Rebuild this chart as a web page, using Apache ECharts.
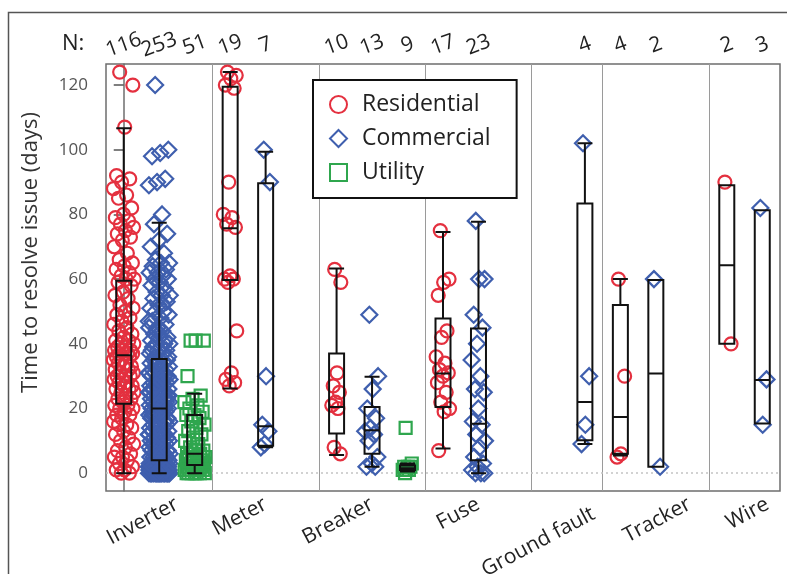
<!DOCTYPE html>
<html>
<head>
<meta charset="utf-8">
<script src="https://cdn.jsdelivr.net/npm/echarts@6/dist/echarts.min.js"></script>
<style>
  html, body { margin: 0; padding: 0; background: #fff; }
  #chart { width: 787px; height: 574px; }
</style>
</head>
<body>
<div id="chart"></div>
<script>
// categories and which groups have a slot on the axis (res, com, util)
const categories = ['Inverter', 'Meter', 'Breaker', 'Fuse', 'Ground fault', 'Tracker', 'Wire'];
const groupNames = ['Residential', 'Commercial', 'Utility'];
const slotsPerCategory = [3, 3, 3, 3, 2, 3, 2];
const yTicks = [0, 20, 40, 60, 80, 100, 120];

// days to resolve, one value per issue
const resInverter = [
  124, 120, 107, 92, 91, 90, 88, 86, 85, 82, 80, 79, 78, 77, 76, 75, 74, 73, 72, 70,
  68, 66, 65, 64, 63, 62, 61, 60, 60,
  59, 58, 56, 55, 54, 52, 51, 50, 49, 48, 47, 46, 45, 44, 43, 42, 41, 41, 40, 40,
  39, 39, 38, 38, 38, 37, 37, 37, 37,
  36, 36, 35, 35, 34, 34, 33, 33, 32, 32, 31, 31, 30, 30, 30, 29, 29, 28, 28, 27,
  27, 26, 26, 25, 25, 24, 23, 23, 22,
  21, 21, 20, 20, 19, 18, 18, 17, 16, 15, 15, 14, 13, 12, 11, 10, 9, 8, 7, 6,
  5, 5, 4, 3, 2, 1, 1, 0, 0
];
const comInverter = [
  120, 100, 99, 98, 91, 90, 89, 80,
  77, 74, 72, 70, 68, 66, 65, 65, 64, 63, 62, 62, 61, 60, 60, 59, 58, 57, 56, 55,
  55, 54, 53, 52, 51, 50, 50, 49, 48, 47, 46, 45, 45, 44, 43, 42, 42, 41, 40, 40,
  40, 39, 39, 38, 38, 37, 37, 36, 36, 36, 38, 41, 44, 47, 52,
  35, 35, 34, 34, 34, 33, 33, 33, 32, 32, 32, 31, 31, 31, 30, 30, 30, 30, 29, 29,
  29, 28, 28, 28, 27, 27, 27, 26, 26, 26, 25, 25, 25, 25, 24, 24, 24, 23, 23, 23,
  22, 22, 22, 22, 21, 21, 21, 21, 20, 20, 20, 20, 34, 31, 28, 26, 23, 21, 25, 30,
  27, 24, 22,
  19, 19, 19, 18, 18, 18, 17, 17, 17, 16, 16, 16, 15, 15, 15, 15, 14, 14, 14, 13,
  13, 13, 12, 12, 12, 12, 11, 11, 11, 10, 10, 10, 10, 9, 9, 9, 8, 8, 8, 8,
  7, 7, 7, 6, 6, 6, 6, 5, 5, 5, 5, 4, 4, 4, 4, 18, 16, 14, 12, 11,
  9, 7, 5,
  3, 3, 3, 3, 3, 3, 3, 3, 2, 2, 2, 2, 2, 2, 2, 2, 2, 2, 1, 1,
  1, 1, 1, 1, 1, 1, 1, 1, 1, 1, 1, 1, 0, 0, 0, 0, 0, 0, 0, 0,
  0, 0, 0, 0, 0, 0, 0, 0, 0, 0, 0, 0, 0, 0, 0, 0, 0, 0, 0, 0,
  2, 1, 0, 3
];
const utiInverter = [
  41, 41, 41, 30,
  24, 23, 22, 21, 20, 19, 18, 18, 17, 16, 15, 14, 13, 12, 11, 10, 9, 8, 7, 7,
  6, 6, 6, 5, 5, 5, 4, 4, 4, 3, 3, 3, 2, 2, 2, 2, 1, 1, 1, 1,
  0, 0, 0, 0, 0, 0, 0
];
const resMeter = [124, 123, 122, 120, 119, 90, 80, 79, 77, 76, 61, 60, 60, 59, 44, 31, 29, 28, 27];
const comMeter = [100, 90, 30, 15, 13, 9, 8];
const resBreaker = [63, 59, 31, 27, 25, 22, 21, 20, 8, 6];
const comBreaker = [49, 30, 26, 20, 17, 14, 13, 12, 10, 5, 3, 2, 2];
const utiBreaker = [14, 3, 2, 2, 2, 1, 1, 1, 0];
const resFuse = [75, 60, 59, 55, 44, 42, 36, 34, 32, 31, 30, 28, 25, 22, 20, 19, 7];
const comFuse = [78, 60, 60, 49, 45, 40, 35, 30, 26, 25, 20, 16, 15, 12, 10, 8, 5, 3, 2, 1, 0, 0, 0];
const comGround = [102, 30, 15, 9];
const resTracker = [60, 30, 6, 5];
const comTracker = [60, 2];
const resWire = [90, 40];
const comWire = [82, 29, 15];

// box stats: [min, Q1, median, Q3, max]
const boxResidential = [
  [0, 21.5, 36.5, 59.5, 106.6], [26.2, 59.7, 75.7, 119.5, 124], [5.6, 12.3, 20.5, 37, 63.3],
  [7.6, 20.5, 30.8, 47.8, 74.6], null, [5.5, 6, 17.4, 52, 60], [40, 40, 64.3, 89, 89]
];
const boxCommercial = [
  [0, 4, 20, 35.3, 77.4], [8, 8.5, 14.5, 89.6, 99.4], [2, 6, 13.3, 20.5, 29.8],
  [0, 4, 15.3, 44.7, 77.7], [9, 10.2, 22, 83.4, 102], [2, 2, 30.8, 59.7, 59.7], [15.4, 15.4, 28.8, 81.3, 81.3]
];
const boxUtility = [[0, 2.5, 6, 18, 24.6], null, [0.5, 1, 1.5, 2.4, 3], null, null, null, null];

const pointsByGroup = [
  [resInverter, resMeter, resBreaker, resFuse, [], resTracker, resWire],
  [comInverter, comMeter, comBreaker, comFuse, comGround, comTracker, comWire],
  [utiInverter, [], utiBreaker, [], [], [], []]
];
const boxByGroup = [boxResidential, boxCommercial, boxUtility];

const colors = ['#e4303f', '#3f5fae', '#2fa64e'];
const symbols = ['circle', 'diamond', 'rect'];
const symbolSizes = [13, 16, 12];
const font = '"Open Sans", sans-serif';
// nudge of each category label (in slots) so it sits like the original
const labelShift = [0.5, 0, 0, 0, 0.6, 0.95, 0.65];

// slot layout
const slotStart = [];
let slotCount = 0;
slotsPerCategory.forEach(n => { slotStart.push(slotCount); slotCount += n; });

const nLabels = new Array(slotCount).fill('');
const boxData = new Array(slotCount).fill(null).map(() => ['-', '-', '-', '-', '-']);
categories.forEach((c, ci) => {
  for (let g = 0; g < slotsPerCategory[ci]; g++) {
    const slot = slotStart[ci] + g;
    const pts = pointsByGroup[g][ci];
    if (pts.length) nLabels[slot] = String(pts.length);
    if (boxByGroup[g][ci]) boxData[slot] = boxByGroup[g][ci];
  }
});

// deterministic horizontal spread so points don't sit on one line
function jitter(k, n) {
  const half = n > 50 ? 0.3 : n > 12 ? 0.2 : 0.14;
  return ((((k + 0.5) * 0.618034) % 1) * 2 - 1) * half;
}

const scatterSeries = groupNames.map((name, g) => {
  const data = [];
  categories.forEach((c, ci) => {
    if (g >= slotsPerCategory[ci]) return;
    const slot = slotStart[ci] + g;
    const pts = pointsByGroup[g][ci];
    pts.forEach((v, k) => data.push([slot + jitter(k, pts.length), v]));
  });
  return {
    name: name,
    type: 'scatter',
    xAxisIndex: 1,
    yAxisIndex: 0,
    symbol: symbols[g],
    symbolSize: symbolSizes[g],
    itemStyle: { color: 'rgba(0,0,0,0)', borderColor: colors[g], borderWidth: 2.2, opacity: 1 },
    z: 2,
    data: data
  };
});

const dividers = slotStart.slice(1).map(s => s - 0.5);
scatterSeries[0].markLine = {
  silent: true,
  symbol: 'none',
  label: { show: false },
  z: 1,
  lineStyle: { color: '#9a9a9a', width: 1, type: 'solid' },
  data: dividers.map(x => ({ xAxis: x })).concat([
    { yAxis: 0, lineStyle: { color: '#c4c4c4', width: 1.5, type: [2, 3] } }
  ])
};

const labelAt = categories.map((c, ci) => slotStart[ci] + (slotsPerCategory[ci] - 1) / 2 + labelShift[ci]);

const chart = echarts.init(document.getElementById('chart'));
chart.setOption({
  animation: false,
  textStyle: { fontFamily: font },
  grid: {
    left: 106, top: 64, right: 7, bottom: 83,
    outerBoundsMode: 'none', containLabel: false,
    show: true, borderColor: '#6e6e6e', borderWidth: 1.5
  },
  legend: {
    data: groupNames,
    orient: 'vertical',
    left: 313,
    top: 80,
    backgroundColor: '#fff',
    borderColor: '#111',
    borderWidth: 2,
    borderRadius: 0,
    padding: [13, 26, 14, 16],
    itemGap: 11,
    itemWidth: 17,
    itemHeight: 17,
    textStyle: { fontSize: 23, color: '#222', padding: [0, 0, 0, 10] }
  },
  xAxis: [
    {
      type: 'category',
      data: nLabels,
      position: 'top',
      axisLine: { show: false },
      axisTick: { show: false },
      axisLabel: { interval: 0, rotate: 20, align: 'center', verticalAlign: 'middle', margin: 19, fontSize: 21, color: '#222' }
    },
    {
      type: 'value',
      min: -0.5,
      max: slotCount - 0.5,
      position: 'bottom',
      splitLine: { show: false },
      axisLine: { show: false },
      axisTick: { show: false },
      axisLabel: {
        customValues: labelAt,
        formatter: v => {
          const name = categories[labelAt.indexOf(v)];
          return name === 'Ground fault' ? '{low|' + name + '}' : name;
        },
        rotate: 28,
        margin: 12,
        fontSize: 21,
        color: '#222',
        rich: { low: { fontSize: 21, color: '#222', padding: [22, 0, 0, 0] } }
      }
    }
  ],
  yAxis: {
    type: 'value',
    min: -5.5,
    max: 126.5,
    name: 'Time to resolve issue (days)',
    nameLocation: 'middle',
    nameGap: 64,
    nameTextStyle: { fontSize: 22, color: '#333', padding: [0, 0, 0, 50] },
    splitLine: { show: false },
    axisLine: { show: true, lineStyle: { color: '#6e6e6e', width: 1.5 } },
    axisTick: { show: true, customValues: yTicks, length: 10, lineStyle: { color: '#555', width: 1.5 } },
    axisLabel: { customValues: yTicks, fontSize: 17, color: '#555', margin: 18 }
  },
  graphic: [
    { type: 'rect', left: 6, top: 10, shape: { width: 820, height: 600 }, style: { fill: 'none', stroke: '#555', lineWidth: 1.5 }, silent: true },
    { type: 'text', left: 62, top: 33, style: { text: 'N:', font: '22px ' + font, fill: '#222' } }
  ],
  series: scatterSeries.concat([{
    name: 'box',
    type: 'boxplot',
    xAxisIndex: 0,
    yAxisIndex: 0,
    boxWidth: [15, 15],
    z: 5,
    itemStyle: { color: 'rgba(0,0,0,0)', borderColor: '#111', borderWidth: 2 },
    emphasis: { disabled: true },
    data: boxData
  }])
});
</script>
</body>
</html>
